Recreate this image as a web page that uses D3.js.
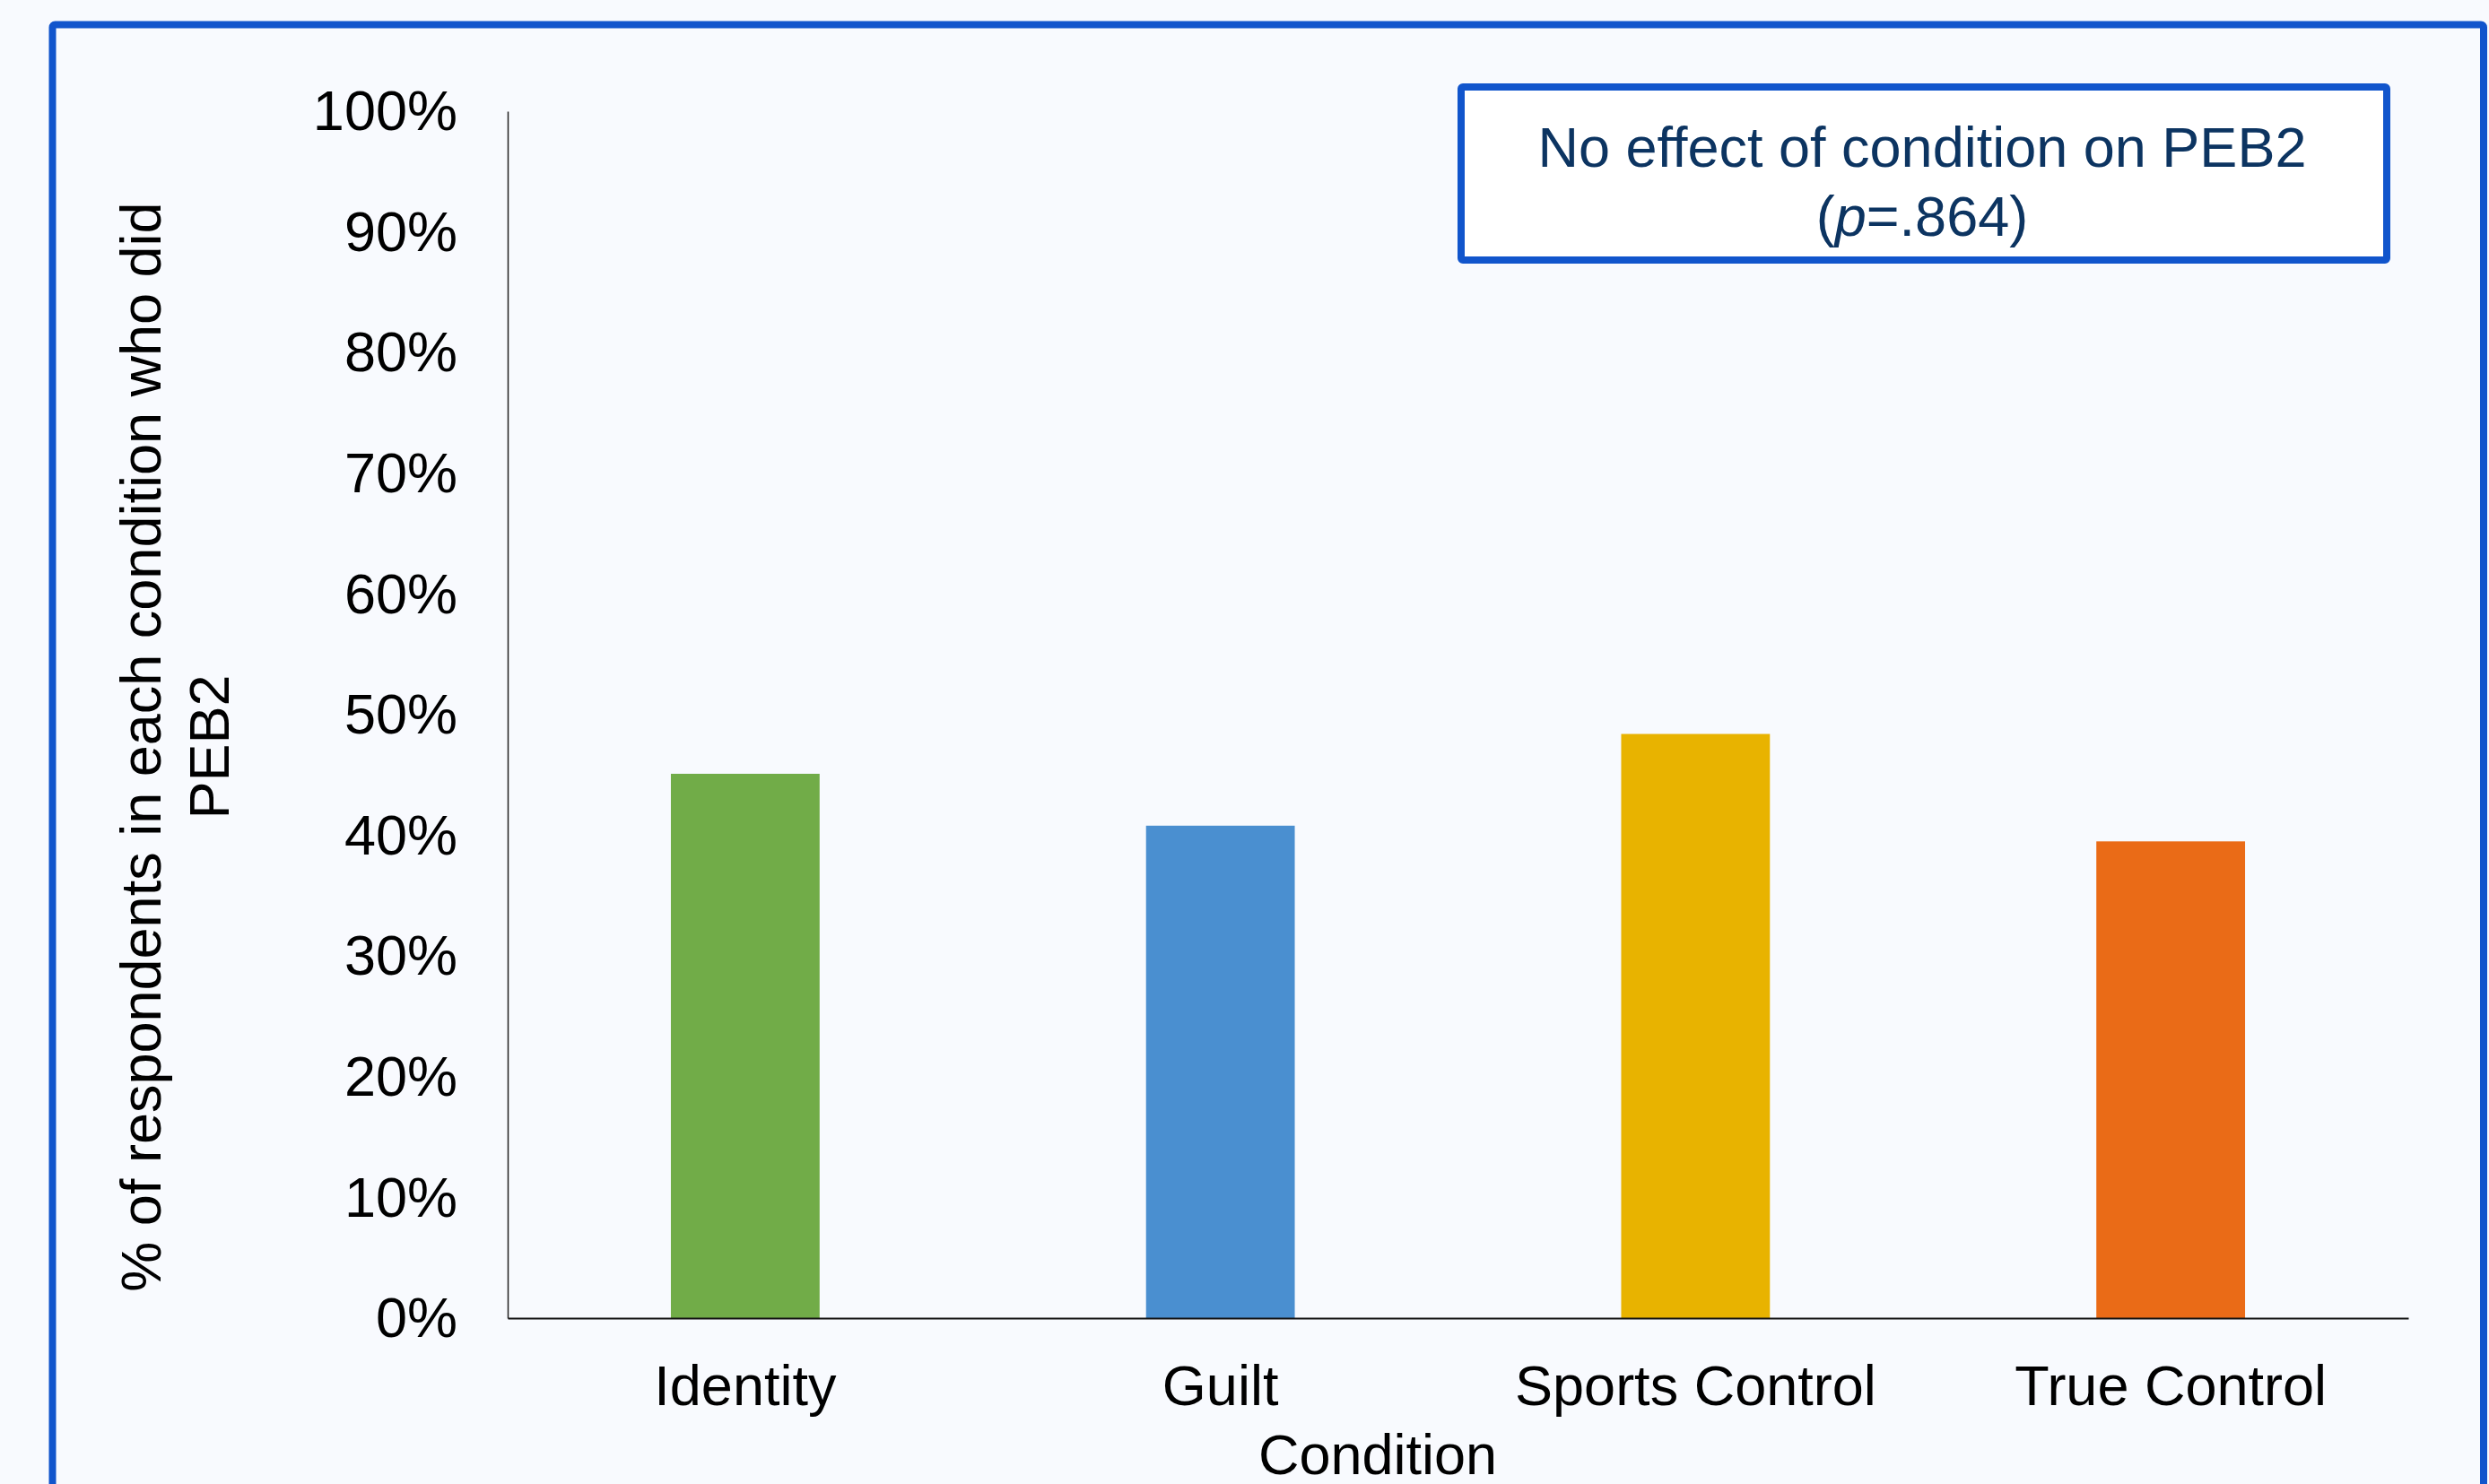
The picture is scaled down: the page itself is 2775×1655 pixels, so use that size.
<!DOCTYPE html>
<html>
<head>
<meta charset="utf-8">
<script src="https://cdn.jsdelivr.net/npm/d3@7"></script>
<style>
  html, body { margin: 0; padding: 0; background: #F8FAFE; overflow: hidden; }
  svg { display: block; font-family: "Liberation Sans", Arial, sans-serif; }
</style>
</head>
<body>
<svg id="chart" width="2775" height="1655"></svg>
<script>
const categories = ["Identity", "Guilt", "Sports Control", "True Control"];
const values = [45.1, 40.8, 48.4, 39.5];
const barColors = ["#71AC48", "#4A8FD0", "#E8B300", "#EA6B17"];
const yTicks = [0, 10, 20, 30, 40, 50, 60, 70, 80, 90, 100];
const yTitleLines = ["% of respondents in each condition who did", "PEB2"];
const xTitle = "Condition";
const noteLine1 = "No effect of condition on PEB2";
const noteP = "p";
const noteRest = "=.864)";

const W = 2775, H = 1655;
const plot = { left: 566, right: 2685, top: 124, bottom: 1470 };
const svg = d3.select("#chart");

svg.append("rect").attr("x", 0).attr("y", 0).attr("width", W).attr("height", H).attr("fill", "#F8FAFE");

// outer frame
svg.append("rect")
  .attr("x", 58.5).attr("y", 27.5)
  .attr("width", 2769 - 58.5).attr("height", 1800)
  .attr("rx", 3)
  .attr("fill", "#F8FAFE").attr("stroke", "#1155CC").attr("stroke-width", 8);

const x = d3.scaleBand().domain(categories)
  .range([plot.left, plot.right])
  .paddingInner(0.687).paddingOuter(0.3435);
const y = d3.scaleLinear().domain([0, 100]).range([plot.bottom, plot.top]);

// bars
svg.append("g").selectAll("rect").data(categories).join("rect")
  .attr("x", d => x(d))
  .attr("y", (d, i) => y(values[i]))
  .attr("width", x.bandwidth())
  .attr("height", (d, i) => y(0) - y(values[i]))
  .attr("fill", (d, i) => barColors[i]);

// y axis
const yAxis = svg.append("g").attr("transform", `translate(${plot.left},0)`)
  .call(d3.axisLeft(y).tickValues(yTicks).tickSize(0).tickSizeOuter(0).tickPadding(56)
    .tickFormat(d => d + "%"));
yAxis.select(".domain").attr("stroke", "#222").attr("stroke-width", 1.5);
yAxis.selectAll("text").attr("font-size", 63).attr("fill", "#000")
  .attr("font-family", "'Liberation Sans', Arial, sans-serif").attr("dy", "0.33em");

// x axis
const xAxis = svg.append("g").attr("transform", `translate(0,${plot.bottom})`)
  .call(d3.axisBottom(x).tickSize(0).tickSizeOuter(0).tickPadding(52));
xAxis.select(".domain").attr("stroke", "#111").attr("stroke-width", 2);
xAxis.selectAll("text").attr("font-size", 63).attr("fill", "#000")
  .attr("font-family", "'Liberation Sans', Arial, sans-serif");

// x title
svg.append("text").attr("x", 1536).attr("y", 1644)
  .attr("text-anchor", "middle").attr("font-size", 63).attr("fill", "#000")
  .text(xTitle);

// y title
const yt = svg.append("text").attr("transform", "translate(0,833) rotate(-90)")
  .attr("text-anchor", "middle").attr("font-size", 63).attr("fill", "#000");
yt.append("tspan").attr("x", 0).attr("y", 179).text(yTitleLines[0]);
yt.append("tspan").attr("x", 0).attr("y", 255).text(yTitleLines[1]);

// annotation box
svg.append("rect")
  .attr("x", 1629).attr("y", 97).attr("width", 2661 - 1629).attr("height", 290 - 97)
  .attr("rx", 2)
  .attr("fill", "#FFFFFF").attr("stroke", "#1155CC").attr("stroke-width", 8);
const note = svg.append("text").attr("text-anchor", "middle").attr("font-size", 63).attr("fill", "#0C3461");
note.append("tspan").attr("x", 2143).attr("y", 186).text(noteLine1);
const l2 = svg.append("text").attr("text-anchor", "middle").attr("font-size", 63).attr("fill", "#0C3461")
  .attr("x", 2143).attr("y", 263);
l2.append("tspan").text("(");
l2.append("tspan").attr("font-style", "italic").text(noteP);
l2.append("tspan").text(noteRest);
</script>
</body>
</html>
